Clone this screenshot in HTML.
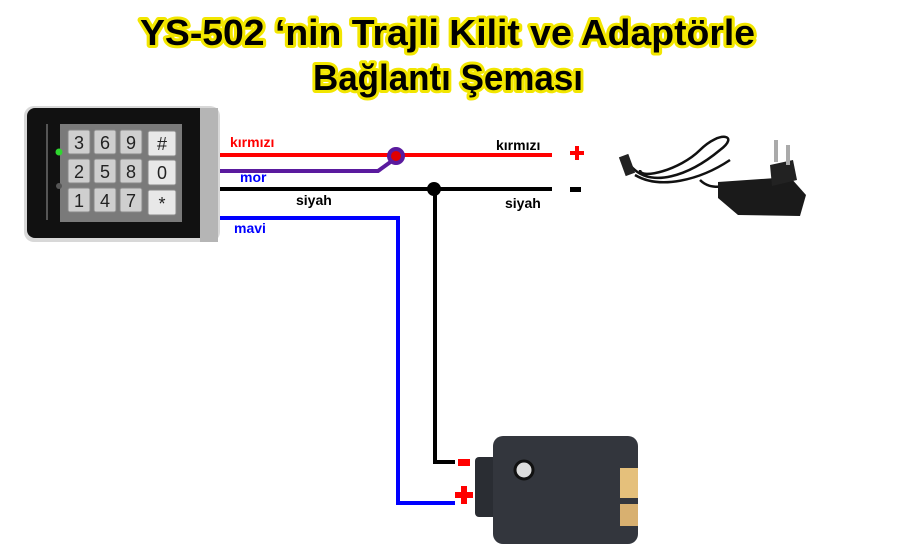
<!DOCTYPE html>
<html><head><meta charset="utf-8"><style>
html,body{margin:0;padding:0;background:#fff;}
svg{display:block;font-family:"Liberation Sans",Arial,sans-serif;}
</style></head><body>
<svg width="897" height="554" viewBox="0 0 897 554" xmlns="http://www.w3.org/2000/svg">
<g font-weight="bold" font-size="36" fill="#000" stroke="#f2e600" stroke-width="6" paint-order="stroke" stroke-linejoin="round">
<text x="140" y="45" textLength="615" lengthAdjust="spacingAndGlyphs">YS-502  ‘nin  Trajli Kilit ve Adaptörle</text>
<text x="313" y="90" textLength="270" lengthAdjust="spacingAndGlyphs">Bağlantı Şeması</text>
</g>
<!-- keypad -->
<rect x="24" y="106" width="196" height="136" rx="10" fill="#d8d8d8"/>
<rect x="27" y="108" width="186" height="130" rx="8" fill="#111"/>
<rect x="200" y="108" width="18" height="134" fill="#b5b5b5"/>
<rect x="60" y="124" width="122" height="98" fill="#7a7a7a"/>
<g fill="#cfcfcf" stroke="#888" stroke-width="1">
<rect x="68" y="130" width="22" height="24" rx="2"/><rect x="94" y="130" width="22" height="24" rx="2"/><rect x="120" y="130" width="22" height="24" rx="2"/><rect x="148" y="131" width="28" height="25" rx="2" fill="#e8e8e8"/>
<rect x="68" y="159" width="22" height="24" rx="2"/><rect x="94" y="159" width="22" height="24" rx="2"/><rect x="120" y="159" width="22" height="24" rx="2"/><rect x="148" y="160" width="28" height="25" rx="2" fill="#e8e8e8"/>
<rect x="68" y="188" width="22" height="24" rx="2"/><rect x="94" y="188" width="22" height="24" rx="2"/><rect x="120" y="188" width="22" height="24" rx="2"/><rect x="148" y="190" width="28" height="25" rx="2" fill="#e8e8e8"/>
</g>
<g font-size="18" fill="#222" text-anchor="middle">
<text x="79" y="149">3</text><text x="105" y="149">6</text><text x="131" y="149">9</text><text x="162" y="150">#</text>
<text x="79" y="178">2</text><text x="105" y="178">5</text><text x="131" y="178">8</text><text x="162" y="179">0</text>
<text x="79" y="207">1</text><text x="105" y="207">4</text><text x="131" y="207">7</text><text x="162" y="210">*</text>
</g>
<rect x="46" y="124" width="2" height="96" fill="#555"/>
<circle cx="59" cy="152" r="3.5" fill="#2fd62f"/>
<circle cx="59" cy="186" r="3" fill="#555"/>
<!-- wires -->
<g fill="none" stroke-width="4">
<line x1="220" y1="155" x2="552" y2="155" stroke="#ff0000"/>
<polyline points="220,171 378,171 396,158" stroke="#5a1a9e"/>
<line x1="220" y1="189" x2="552" y2="189" stroke="#000"/>
<polyline points="435,189 435,462 455,462" stroke="#000"/>
<polyline points="220,218 398,218 398,503 455,503" stroke="#0000ff"/>
</g>
<circle cx="396" cy="156" r="7" fill="#e00000" stroke="#5a1a9e" stroke-width="4"/>
<circle cx="434" cy="189" r="7" fill="#000"/>
<g font-weight="bold" font-size="14">
<text x="230" y="147" fill="#ff0000">kırmızı</text>
<text x="240" y="182" fill="#0000ff">mor</text>
<text x="296" y="205" fill="#000">siyah</text>
<text x="234" y="233" fill="#0000ff">mavi</text>
<text x="496" y="150" fill="#000">kırmızı</text>
<text x="505" y="208" fill="#000">siyah</text>
</g>
<g fill="#ff0000">
<rect x="570" y="151" width="14" height="4"/><rect x="575" y="146" width="4" height="14"/>
<rect x="455" y="492" width="18" height="6"/><rect x="461" y="486" width="6" height="18"/>
<rect x="458" y="459" width="12" height="7"/>
</g>
<rect x="570" y="187" width="11" height="5" fill="#000"/>
<!-- adapter -->
<g fill="none" stroke="#111" stroke-width="2.5">
<path d="M630 165 C650 190 690 175 720 150 C740 135 720 130 700 150 C680 170 640 180 640 170 M635 175 C660 190 700 180 730 160 M700 180 C710 190 720 185 725 188"/>
</g>
<rect x="622" y="155" width="10" height="20" fill="#222" transform="rotate(-20 627 165)"/>
<polygon points="718,182 790,177 806,195 800,216 738,215 718,198" fill="#1a1a1a"/>
<polygon points="770,165 793,160 797,180 772,186" fill="#222"/>
<rect x="774" y="140" width="4" height="22" fill="#aaa"/><rect x="786" y="145" width="4" height="20" fill="#aaa"/>
<!-- lock -->
<rect x="475" y="457" width="30" height="60" rx="4" fill="#2a2d33"/>
<rect x="493" y="436" width="145" height="108" rx="10" fill="#33363d"/>
<rect x="620" y="468" width="18" height="30" fill="#e5c07b"/>
<rect x="620" y="504" width="18" height="22" fill="#d8b070"/>
<circle cx="524" cy="470" r="9" fill="#ddd" stroke="#111" stroke-width="3"/>
</svg>
</body></html>
